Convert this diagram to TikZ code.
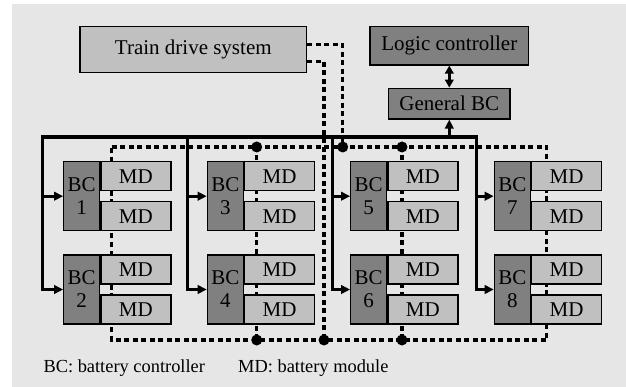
\documentclass[tikz,border=0pt]{standalone}
\usepackage{fontspec}
\setmainfont{Liberation Serif}
\usetikzlibrary{arrows.meta}
\definecolor{bgc}{HTML}{E6E6E6}
\definecolor{lightbox}{HTML}{C0C0C0}
\definecolor{darkbox}{HTML}{808080}
\begin{document}
\begin{tikzpicture}[x=1pt,y=-1pt,
  box/.style={draw=black, line width=1.2pt, inner sep=0pt, font=\fontsize{21}{23}\selectfont},
  bcbox/.style={box, fill=darkbox, minimum width=36pt, minimum height=69pt, align=center},
  mdbox/.style={box, fill=lightbox, minimum width=70pt, minimum height=29pt},
  bus/.style={line width=3.1pt},
  sig/.style={line width=3.1pt, dash pattern=on 5pt off 3.5pt},
  tip/.style={-{Triangle[length=9pt,width=8.5pt]}},
  dot/.style={circle, fill=black, inner sep=0pt, minimum size=11pt},
  legend/.style={inner sep=0pt, anchor=base west, font=\fontsize{18.4}{20}\selectfont}]
\useasboundingbox (0,0) rectangle (626,387);
\fill[bgc] (12,4) rectangle (626,387);

% signal (dashed) network coordinates
\coordinate (dt1) at (111.7,147);
\coordinate (dt2) at (256.7,147);
\coordinate (dt3) at (402,147);
\coordinate (dt4) at (546.7,147);
\coordinate (db1) at (111.7,340);
\coordinate (db2) at (256.7,340);
\coordinate (db3) at (402,340);
\coordinate (db4) at (546.7,340);
\coordinate (dtA) at (342.7,147);
\coordinate (dbA) at (324,340);

\draw[sig] (dt1) -- (dt4) -- (db4) -- (db1) -- cycle;
\draw[sig] (dt2) -- (db2);
\draw[sig] (dt3) -- (db3);

% top boxes
\node[box, fill=lightbox, minimum width=226.7pt, minimum height=46pt] (train) at (193.3,49.7) {Train drive system};
\node[box, fill=darkbox, minimum width=158.7pt, minimum height=38.3pt] (logic) at (449.3,45.8) {Logic controller};
\node[box, fill=darkbox, minimum width=121.3pt, minimum height=30.7pt] (gbc) at (449.3,103.6) {General BC};

% battery controllers
\node[bcbox] (bc1) at (81.7,196.2) {BC\\1};
\node[bcbox] (bc2) at (81.7,289.5) {BC\\2};
\node[bcbox] (bc3) at (225.3,196.2) {BC\\3};
\node[bcbox] (bc4) at (225.3,289.5) {BC\\4};
\node[bcbox] (bc5) at (368.7,196.2) {BC\\5};
\node[bcbox] (bc6) at (368.7,289.5) {BC\\6};
\node[bcbox] (bc7) at (512.3,196.2) {BC\\7};
\node[bcbox] (bc8) at (512.3,289.5) {BC\\8};

% battery modules
\foreach \i in {1,...,8}{
  \node[mdbox, anchor=north west] (md\i a) at (bc\i.north east) {MD};
  \node[mdbox, anchor=south west] (md\i b) at (bc\i.south east) {MD};
}

% train drive system signal lines
\draw[sig] ([yshift=5pt]train.east) -| (dtA);
\draw[sig] ([yshift=-12pt]train.east) -| (dbA);

% junction dots
\node[dot] (j1) at (dt2) {};
\node[dot] (j2) at (dtA) {};
\node[dot] (j3) at (dt3) {};
\node[dot] (j4) at (db2) {};
\node[dot] (j5) at (dbA) {};
\node[dot] (j6) at (db3) {};

% solid bus
\coordinate (s1) at (42.7,137);
\coordinate (s2) at (187.7,137);
\coordinate (s3) at (332.3,137);
\coordinate (s4) at (476.7,137);
\draw[bus, line cap=rect] (s1) -- (s4);
\draw[bus,tip] (s1) |- (bc2.west);
\draw[bus,tip] (s1 |- bc1.west) -- (bc1.west);
\draw[bus,tip] (s2) |- (bc4.west);
\draw[bus,tip] (s2 |- bc3.west) -- (bc3.west);
\draw[bus,tip] (s3) |- (bc6.west);
\draw[bus,tip] (s3 |- bc5.west) -- (bc5.west);
\draw[bus,tip] (s4) |- (bc8.west);
\draw[bus,tip] (s4 |- bc7.west) -- (bc7.west);
\draw[bus,tip] (gbc.south |- s1) -- (gbc.south);
\draw[bus,{Triangle[length=8pt,width=8.5pt]}-{Triangle[length=8pt,width=8.5pt]}] (logic.south) -- (gbc.north);

% legend
\node[legend] (leg1) at (43.3,372.7) {BC: battery controller};
\node[legend] (leg2) at (238,372.7) {MD: battery module};
\end{tikzpicture}
\end{document}
